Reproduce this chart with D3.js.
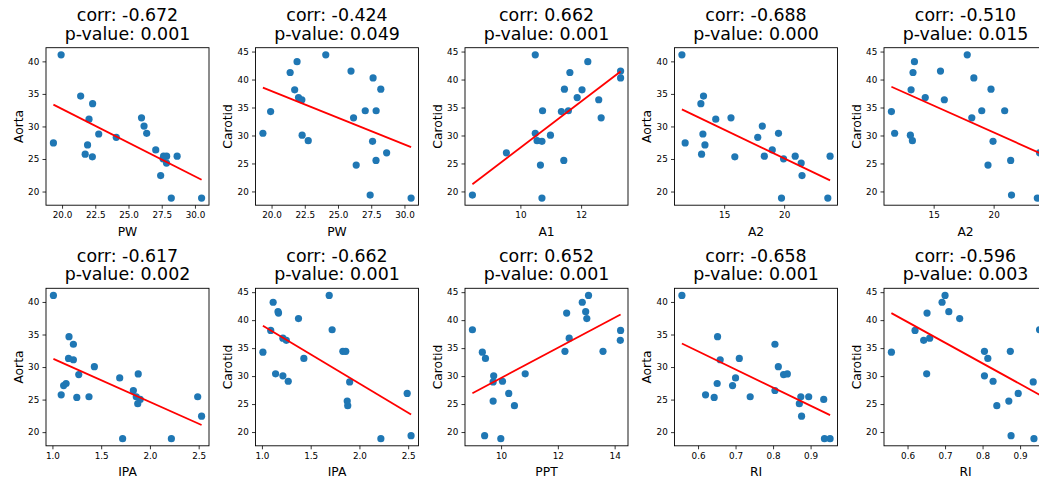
<!DOCTYPE html>
<html>
<head>
<meta charset="utf-8">
<script src="https://cdn.jsdelivr.net/npm/d3@7"></script>
<style>
  body { margin: 0; background: #fff; }
  svg { display: block; font-family: "DejaVu Sans", sans-serif; }
</style>
</head>
<body>
<svg id="chart" width="1039" height="483"></svg>
<script>
// One value per subject (22 subjects, same order in every array)
const PW = [19.93, 19.35, 21.4, 22.3, 22.03, 21.92, 21.74, 22.28, 22.76, 24.08, 25.98,
            26.17, 26.37, 27.05, 27.64, 27.87, 27.6, 27.86, 27.42, 28.66, 28.22, 30.5];
const A1 = [11.35, 10.49, 11.63, 10.99, 11.87, 12.22, 12.03, 12.58, 10.55, 10.49, 13.3,
            12.66, 10.66, 10.73, 13.3, 11.58, 10.71, 11.43, 8.42, 9.54, 11.45, 10.71];
const A2 = [11.48, 11.75, 13.28, 13.06, 14.3, 13.4, 13.12, 15.89, 13.23, 17.8, 15.57,
            18.18, 19.53, 19.01, 18.35, 20.92, 19.95, 21.42, 21.49, 23.83, 19.78, 23.64];
const IPA = [1.01, 1.14, 1.17, 1.215, 1.215, 1.115, 1.09, 1.25, 1.27, 1.69, 1.165,
             1.43, 1.88, 1.83, 1.375, 1.86, 1.90, 1.875, 2.53, 2.49, 1.72, 2.22];
const PPT = [9.34, 10.85, 12.31, 9.74, 12.4, 12.86, 14.21, 14.2, 10.05, 13.08, 12.98,
             9.45, 10.47, 12.25, 13.02, 13.59, 9.72, 9.72, 9.42, 10.27, 8.99, 9.99];
const RI = [0.557, 0.651, 0.652, 0.805, 0.659, 0.692, 0.62, 0.643, 0.828, 0.7, 0.71,
            0.814, 0.838, 0.805, 0.739, 0.874, 0.935, 0.87, 0.876, 0.895, 0.952, 0.937];
const Aorta = [41.0, 27.47, 34.66, 33.5, 31.12, 27.16, 25.74, 25.34, 28.84, 28.33, 31.32,
               30.05, 28.94, 26.4, 25.44, 25.44, 25.03, 24.38, 22.45, 25.44, 19.0, 19.0];
const Carotid = [34.27, 30.4, 41.26, 30.05, 36.78, 43.2, 38.16, 36.39, 29.08, 44.41, 41.52,
                 33.15, 24.72, 34.42, 40.28, 34.42, 28.96, 25.54, 19.35, 26.9, 38.28, 18.82];

const columns = { PW, A1, A2, IPA, PPT, RI, Aorta, Carotid };

// Panel pairs, row by row
const xVars = ["PW", "PW", "A1", "A2", "A2", "IPA", "IPA", "PPT", "RI", "RI"];
const yVars = ["Aorta", "Carotid", "Carotid", "Aorta", "Carotid",
               "Aorta", "Carotid", "Carotid", "Aorta", "Carotid"];
const corrLabels = ["-0.672", "-0.424", "0.662", "-0.688", "-0.510",
                    "-0.617", "-0.662", "0.652", "-0.658", "-0.596"];
const pLabels = ["0.001", "0.049", "0.001", "0.000", "0.015",
                 "0.002", "0.001", "0.001", "0.001", "0.003"];

// Tick values and formats per variable
const xTicks = {
  PW: [20, 22.5, 25, 27.5, 30], A1: [10, 12], A2: [15, 20],
  IPA: [1.0, 1.5, 2.0, 2.5], PPT: [10, 12, 14], RI: [0.6, 0.7, 0.8, 0.9]
};
const xTickFormat = { PW: ".1f", A1: "d", A2: "d", IPA: ".1f", PPT: "d", RI: ".1f" };
const yTicks = { Aorta: [20, 25, 30, 35, 40], Carotid: [20, 25, 30, 35, 40, 45] };

// Layout
const colLeft0 = 46, colStep = 209.5, axW = 163, axH = 157.5;
const rowTop = [47.7, 288.3];
const dotColor = "#1f77b4";

const svg = d3.select("#chart");

function padded(values) {
  const [lo, hi] = d3.extent(values);
  const m = (hi - lo) * 0.05;
  return [lo - m, hi + m];
}

function fit(xs, ys) {
  const mx = d3.mean(xs), my = d3.mean(ys);
  let sxy = 0, sxx = 0;
  xs.forEach((x, i) => { sxy += (x - mx) * (ys[i] - my); sxx += (x - mx) * (x - mx); });
  const slope = sxy / sxx;
  return { slope, intercept: my - slope * mx };
}

xVars.forEach((xv, p) => {
  const yv = yVars[p];
  const row = Math.floor(p / 5), col = p % 5;
  const left = colLeft0 + col * colStep, top = rowTop[row];
  const xs = columns[xv], ys = columns[yv];

  const x = d3.scaleLinear().domain(padded(xs)).range([0, axW]);
  const y = d3.scaleLinear().domain(padded(ys)).range([axH, 0]);

  const g = svg.append("g").attr("transform", `translate(${left},${top})`);

  // points
  g.selectAll("circle").data(xs.map((v, i) => [v, ys[i]])).join("circle")
    .attr("cx", d => x(d[0])).attr("cy", d => y(d[1]))
    .attr("r", 3.6).attr("fill", dotColor);

  // least-squares line across the x range
  const { slope, intercept } = fit(xs, ys);
  const [x0, x1] = d3.extent(xs);
  g.append("line")
    .attr("x1", x(x0)).attr("y1", y(intercept + slope * x0))
    .attr("x2", x(x1)).attr("y2", y(intercept + slope * x1))
    .attr("stroke", "red").attr("stroke-width", 1.8);

  // axes
  const xAxis = d3.axisBottom(x).tickValues(xTicks[xv]).tickFormat(d3.format(xTickFormat[xv]))
    .tickSize(3.5).tickPadding(3.2);
  const yAxis = d3.axisLeft(y).tickValues(yTicks[yv]).tickFormat(d3.format("d"))
    .tickSize(3.5).tickPadding(3.2);

  const gx = g.append("g").attr("transform", `translate(0,${axH})`).call(xAxis);
  const gy = g.append("g").call(yAxis);
  [gx, gy].forEach(a => {
    a.select(".domain").remove();
    a.selectAll(".tick line").attr("stroke", "#000").attr("stroke-width", 0.8);
    a.selectAll(".tick text").attr("fill", "#000")
      .style("font-family", "'DejaVu Sans', sans-serif").style("font-size", "8.8px");
  });

  // frame
  g.append("rect").attr("x", 0).attr("y", 0).attr("width", axW).attr("height", axH)
    .attr("fill", "none").attr("stroke", "#000").attr("stroke-width", 0.9);

  // axis labels
  g.append("text").attr("x", axW / 2).attr("y", axH + 30.5)
    .attr("text-anchor", "middle").style("font-size", "12.3px").attr("fill", "#000")
    .text(xv);
  g.append("text").attr("transform", `translate(-23.5,${axH / 2}) rotate(-90)`)
    .attr("text-anchor", "middle").style("font-size", "12.3px").attr("fill", "#000")
    .text(yv);

  // title
  const t = g.append("text").attr("text-anchor", "middle").style("font-size", "17.4px").attr("fill", "#000");
  t.append("tspan").attr("x", axW / 2).attr("y", -26.5).text(`corr: ${corrLabels[p]}`);
  t.append("tspan").attr("x", axW / 2).attr("y", -8.2).text(`p-value: ${pLabels[p]}`);
});
</script>
</body>
</html>
